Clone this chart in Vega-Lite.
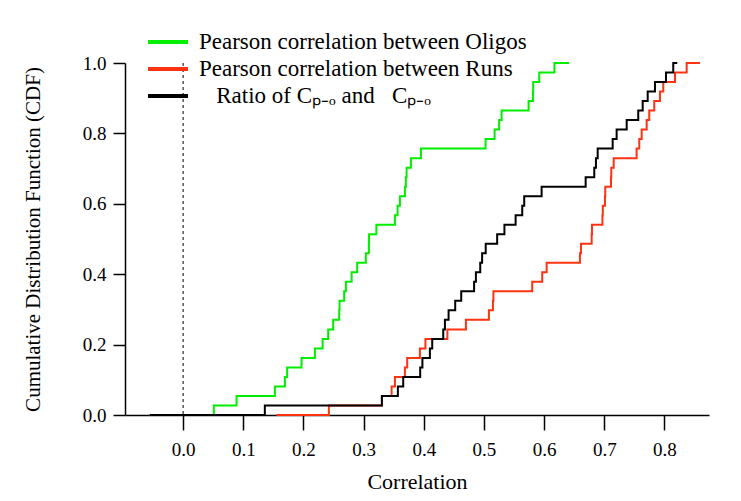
{
  "$schema": "https://vega.github.io/schema/vega-lite/v6.json",
  "width": 584,
  "height": 352,
  "autosize": {"type": "none"},
  "padding": {"left": 125, "top": 63, "right": 32, "bottom": 86},
  "background": "white",
  "config": {
    "view": {"stroke": null},
    "font": "Liberation Serif",
    "axis": {
      "grid": false,
      "domainColor": "black",
      "tickColor": "black",
      "labelColor": "black",
      "titleColor": "black",
      "labelFont": "Liberation Serif",
      "titleFont": "Liberation Serif",
      "labelFontSize": 19,
      "titleFontSize": 21,
      "titleFontWeight": "normal",
      "domainWidth": 1.5,
      "tickWidth": 1.5
    },
    "legend": {
      "orient": "none",
      "legendX": 31,
      "legendY": -33,
      "title": null,
      "symbolType": "M-2,0H2",
      "symbolSize": 400,
      "symbolStrokeWidth": 4,
      "symbolFillColor": "transparent",
      "labelFont": "Liberation Serif",
      "labelFontSize": 23,
      "labelColor": "black",
      "labelOffset": 19,
      "labelLimit": 600,
      "rowPadding": 3
    }
  },
  "data": {
    "values": [
      {"series": "Oligos", "r": -0.0554, "cdf": 0},
      {"series": "Oligos", "r": 0.0510, "cdf": 0.0270},
      {"series": "Oligos", "r": 0.0888, "cdf": 0.0541},
      {"series": "Oligos", "r": 0.1525, "cdf": 0.0811},
      {"series": "Oligos", "r": 0.1691, "cdf": 0.1081},
      {"series": "Oligos", "r": 0.1729, "cdf": 0.1351},
      {"series": "Oligos", "r": 0.1968, "cdf": 0.1622},
      {"series": "Oligos", "r": 0.2190, "cdf": 0.1892},
      {"series": "Oligos", "r": 0.2318, "cdf": 0.2162},
      {"series": "Oligos", "r": 0.2411, "cdf": 0.2432},
      {"series": "Oligos", "r": 0.2494, "cdf": 0.2703},
      {"series": "Oligos", "r": 0.2594, "cdf": 0.2973},
      {"series": "Oligos", "r": 0.2600, "cdf": 0.3243},
      {"series": "Oligos", "r": 0.2677, "cdf": 0.3514},
      {"series": "Oligos", "r": 0.2705, "cdf": 0.3784},
      {"series": "Oligos", "r": 0.2800, "cdf": 0.4054},
      {"series": "Oligos", "r": 0.2893, "cdf": 0.4324},
      {"series": "Oligos", "r": 0.3037, "cdf": 0.4595},
      {"series": "Oligos", "r": 0.3087, "cdf": 0.4865},
      {"series": "Oligos", "r": 0.3090, "cdf": 0.5135},
      {"series": "Oligos", "r": 0.3212, "cdf": 0.5405},
      {"series": "Oligos", "r": 0.3520, "cdf": 0.5676},
      {"series": "Oligos", "r": 0.3564, "cdf": 0.5946},
      {"series": "Oligos", "r": 0.3603, "cdf": 0.6216},
      {"series": "Oligos", "r": 0.3686, "cdf": 0.6486},
      {"series": "Oligos", "r": 0.3702, "cdf": 0.6757},
      {"series": "Oligos", "r": 0.3714, "cdf": 0.7027},
      {"series": "Oligos", "r": 0.3786, "cdf": 0.7297},
      {"series": "Oligos", "r": 0.3952, "cdf": 0.7568},
      {"series": "Oligos", "r": 0.5027, "cdf": 0.7838},
      {"series": "Oligos", "r": 0.5177, "cdf": 0.8108},
      {"series": "Oligos", "r": 0.5252, "cdf": 0.8378},
      {"series": "Oligos", "r": 0.5293, "cdf": 0.8649},
      {"series": "Oligos", "r": 0.5742, "cdf": 0.8919},
      {"series": "Oligos", "r": 0.5814, "cdf": 0.9189},
      {"series": "Oligos", "r": 0.5818, "cdf": 0.9459},
      {"series": "Oligos", "r": 0.5919, "cdf": 0.9730},
      {"series": "Oligos", "r": 0.6171, "cdf": 1.0},
      {"series": "Oligos", "r": 0.6417, "cdf": 1.0},
      {"series": "Runs", "r": 0.1553, "cdf": 0},
      {"series": "Runs", "r": 0.2422, "cdf": 0.0270},
      {"series": "Runs", "r": 0.3305, "cdf": 0.0541},
      {"series": "Runs", "r": 0.3465, "cdf": 0.0811},
      {"series": "Runs", "r": 0.3520, "cdf": 0.1081},
      {"series": "Runs", "r": 0.3686, "cdf": 0.1351},
      {"series": "Runs", "r": 0.3724, "cdf": 0.1622},
      {"series": "Runs", "r": 0.3935, "cdf": 0.1892},
      {"series": "Runs", "r": 0.4027, "cdf": 0.2162},
      {"series": "Runs", "r": 0.4392, "cdf": 0.2432},
      {"series": "Runs", "r": 0.4700, "cdf": 0.2703},
      {"series": "Runs", "r": 0.5082, "cdf": 0.2973},
      {"series": "Runs", "r": 0.5149, "cdf": 0.3243},
      {"series": "Runs", "r": 0.5157, "cdf": 0.3514},
      {"series": "Runs", "r": 0.5802, "cdf": 0.3784},
      {"series": "Runs", "r": 0.5968, "cdf": 0.4054},
      {"series": "Runs", "r": 0.6042, "cdf": 0.4324},
      {"series": "Runs", "r": 0.6595, "cdf": 0.4595},
      {"series": "Runs", "r": 0.6612, "cdf": 0.4865},
      {"series": "Runs", "r": 0.6790, "cdf": 0.5135},
      {"series": "Runs", "r": 0.6795, "cdf": 0.5405},
      {"series": "Runs", "r": 0.6969, "cdf": 0.5676},
      {"series": "Runs", "r": 0.6975, "cdf": 0.5946},
      {"series": "Runs", "r": 0.7011, "cdf": 0.6216},
      {"series": "Runs", "r": 0.7016, "cdf": 0.6486},
      {"series": "Runs", "r": 0.7111, "cdf": 0.6757},
      {"series": "Runs", "r": 0.7116, "cdf": 0.7027},
      {"series": "Runs", "r": 0.7156, "cdf": 0.7297},
      {"series": "Runs", "r": 0.7537, "cdf": 0.7568},
      {"series": "Runs", "r": 0.7581, "cdf": 0.7838},
      {"series": "Runs", "r": 0.7621, "cdf": 0.8108},
      {"series": "Runs", "r": 0.7704, "cdf": 0.8378},
      {"series": "Runs", "r": 0.7747, "cdf": 0.8649},
      {"series": "Runs", "r": 0.7830, "cdf": 0.8919},
      {"series": "Runs", "r": 0.7925, "cdf": 0.9189},
      {"series": "Runs", "r": 0.7980, "cdf": 0.9459},
      {"series": "Runs", "r": 0.8175, "cdf": 0.9730},
      {"series": "Runs", "r": 0.8369, "cdf": 1.0},
      {"series": "Runs", "r": 0.8590, "cdf": 1.0},
      {"series": "Ratio", "r": -0.0554, "cdf": 0},
      {"series": "Ratio", "r": 0.1358, "cdf": 0.0270},
      {"series": "Ratio", "r": 0.3303, "cdf": 0.0541},
      {"series": "Ratio", "r": 0.3569, "cdf": 0.0811},
      {"series": "Ratio", "r": 0.3658, "cdf": 0.1081},
      {"series": "Ratio", "r": 0.3940, "cdf": 0.1351},
      {"series": "Ratio", "r": 0.3977, "cdf": 0.1622},
      {"series": "Ratio", "r": 0.4101, "cdf": 0.1892},
      {"series": "Ratio", "r": 0.4140, "cdf": 0.2162},
      {"series": "Ratio", "r": 0.4323, "cdf": 0.2432},
      {"series": "Ratio", "r": 0.4351, "cdf": 0.2703},
      {"series": "Ratio", "r": 0.4412, "cdf": 0.2973},
      {"series": "Ratio", "r": 0.4522, "cdf": 0.3243},
      {"series": "Ratio", "r": 0.4622, "cdf": 0.3514},
      {"series": "Ratio", "r": 0.4836, "cdf": 0.3784},
      {"series": "Ratio", "r": 0.4866, "cdf": 0.4054},
      {"series": "Ratio", "r": 0.4938, "cdf": 0.4324},
      {"series": "Ratio", "r": 0.4969, "cdf": 0.4595},
      {"series": "Ratio", "r": 0.5029, "cdf": 0.4865},
      {"series": "Ratio", "r": 0.5219, "cdf": 0.5135},
      {"series": "Ratio", "r": 0.5340, "cdf": 0.5405},
      {"series": "Ratio", "r": 0.5526, "cdf": 0.5676},
      {"series": "Ratio", "r": 0.5636, "cdf": 0.5946},
      {"series": "Ratio", "r": 0.5669, "cdf": 0.6216},
      {"series": "Ratio", "r": 0.5958, "cdf": 0.6486},
      {"series": "Ratio", "r": 0.6690, "cdf": 0.6757},
      {"series": "Ratio", "r": 0.6833, "cdf": 0.7027},
      {"series": "Ratio", "r": 0.6861, "cdf": 0.7297},
      {"series": "Ratio", "r": 0.6890, "cdf": 0.7568},
      {"series": "Ratio", "r": 0.7139, "cdf": 0.7838},
      {"series": "Ratio", "r": 0.7205, "cdf": 0.8108},
      {"series": "Ratio", "r": 0.7372, "cdf": 0.8378},
      {"series": "Ratio", "r": 0.7564, "cdf": 0.8649},
      {"series": "Ratio", "r": 0.7638, "cdf": 0.8919},
      {"series": "Ratio", "r": 0.7721, "cdf": 0.9189},
      {"series": "Ratio", "r": 0.7842, "cdf": 0.9459},
      {"series": "Ratio", "r": 0.8025, "cdf": 0.9730},
      {"series": "Ratio", "r": 0.8146, "cdf": 1.0},
      {"series": "Ratio", "r": 0.8213, "cdf": 1.0}
    ]
  },
  "encoding": {
    "x": {
      "field": "r",
      "type": "quantitative",
      "scale": {"domain": [-0.0966, 0.874], "nice": false, "zero": false},
      "axis": {
        "title": "Correlation",
        "titleFontSize": 22,
        "values": [0, 0.1, 0.2, 0.3, 0.4, 0.5, 0.6, 0.7, 0.8],
        "format": ".1f",
        "tickSize": 15,
        "labelPadding": 10,
        "titlePadding": 12
      }
    },
    "y": {
      "field": "cdf",
      "type": "quantitative",
      "scale": {"domain": [0, 1], "nice": false},
      "axis": {
        "title": "Cumulative Distribution Function (CDF)",
        "values": [0, 0.2, 0.4, 0.6, 0.8, 1.0],
        "format": ".1f",
        "tickSize": 12,
        "labelPadding": 7,
        "titlePadding": 39
      }
    }
  },
  "layer": [
    {
      "data": {"values": [{"ref": 0}]},
      "mark": {"type": "rule", "strokeDash": [3, 3], "strokeWidth": 1, "color": "black"},
      "encoding": {"x": {"field": "ref", "type": "quantitative"}, "y": null}
    },
    {
      "transform": [{"filter": "datum.series === 'Oligos'"}],
      "mark": {"type": "line", "interpolate": "step-after", "strokeWidth": 2},
      "encoding": {
        "color": {
          "field": "series",
          "type": "nominal",
          "scale": {"domain": ["Oligos", "Runs", "Ratio"], "range": ["#00ee00", "#ff3311", "#000000"]},
          "legend": {"labelExpr": "datum.label === 'Oligos' ? 'Pearson correlation between Oligos' : datum.label === 'Runs' ? 'Pearson correlation between Runs' : '\u200d\u00a0\u00a0\u00a0Ratio of C\u209a\u208b\u2092 and \u00a0\u00a0C\u209a\u208b\u2092'"}
        }
      }
    },
    {
      "transform": [{"filter": "datum.series === 'Runs'"}],
      "mark": {"type": "line", "interpolate": "step-after", "strokeWidth": 2},
      "encoding": {
        "color": {
          "field": "series",
          "type": "nominal",
          "scale": {"domain": ["Oligos", "Runs", "Ratio"], "range": ["#00ee00", "#ff3311", "#000000"]}
        }
      }
    },
    {
      "transform": [{"filter": "datum.series === 'Ratio'"}],
      "mark": {"type": "line", "interpolate": "step-after", "strokeWidth": 2},
      "encoding": {
        "color": {
          "field": "series",
          "type": "nominal",
          "scale": {"domain": ["Oligos", "Runs", "Ratio"], "range": ["#00ee00", "#ff3311", "#000000"]}
        }
      }
    }
  ]
}
